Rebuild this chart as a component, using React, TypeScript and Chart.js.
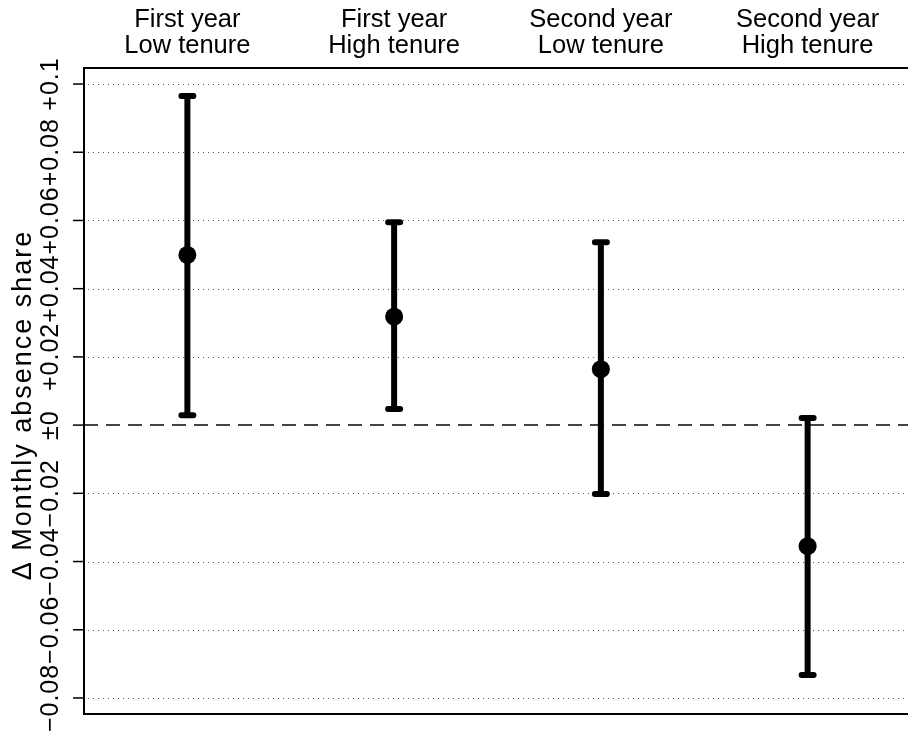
import React, { useEffect, useRef } from "react";
import { Chart, registerables } from "chart.js";

Chart.register(...registerables);

const categoriesTop = ["First year", "First year", "Second year", "Second year"];
const categoriesBottom = ["Low tenure", "High tenure", "Low tenure", "High tenure"];
const estimates = [0.0499, 0.0318, 0.0164, -0.0355];
const upper = [0.0965, 0.0595, 0.0536, 0.0021];
const lower = [0.0029, 0.0047, -0.0202, -0.0733];
const tickValues = [0.1, 0.08, 0.06, 0.04, 0.02, 0, -0.02, -0.04, -0.06, -0.08];
const tickLabels = ["+0.1", "+0.08", "+0.06", "+0.04", "+0.02", "±0", "−0.02", "−0.04", "−0.06", "−0.08"];
const yTitle = "Δ Monthly absence share";

const FONT = '"Liberation Sans", Arial, Helvetica, sans-serif';

export default function App() {
  const ref = useRef<HTMLCanvasElement | null>(null);

  useEffect(() => {
    if (!ref.current) return;
    const plugin = {
      id: "rstyle",
      beforeDatasetsDraw(chart: any) {
        const ctx = chart.ctx;
        const { left, right, top, bottom } = chart.chartArea;
        const xs = chart.scales.x;
        const ys = chart.scales.y;
        ctx.save();
        // dotted grid
        ctx.strokeStyle = "#555";
        ctx.lineWidth = 1;
        ctx.setLineDash([1, 4]);
        tickValues.forEach((v) => {
          if (v === 0) return;
          const y = Math.round(ys.getPixelForValue(v)) + 0.5;
          ctx.beginPath();
          ctx.moveTo(left + 4, y);
          ctx.lineTo(right, y);
          ctx.stroke();
        });
        // dashed zero line
        ctx.strokeStyle = "#444";
        ctx.lineWidth = 2;
        ctx.setLineDash([14, 8]);
        const y0 = ys.getPixelForValue(0);
        ctx.beginPath();
        ctx.moveTo(left, y0);
        ctx.lineTo(right, y0);
        ctx.stroke();
        ctx.setLineDash([]);
        // error bars
        ctx.strokeStyle = "#000";
        ctx.lineWidth = 6;
        estimates.forEach((_, i) => {
          const x = xs.getPixelForValue(i + 1);
          const yu = ys.getPixelForValue(upper[i]);
          const yl = ys.getPixelForValue(lower[i]);
          ctx.lineCap = "butt";
          ctx.beginPath();
          ctx.moveTo(x, yu);
          ctx.lineTo(x, yl);
          ctx.stroke();
          ctx.lineCap = "round";
          ctx.beginPath();
          ctx.moveTo(x - 6, yu);
          ctx.lineTo(x + 6, yu);
          ctx.moveTo(x - 6, yl);
          ctx.lineTo(x + 6, yl);
          ctx.stroke();
        });
        ctx.restore();
      },
      afterDraw(chart: any) {
        const ctx = chart.ctx;
        const { left, right, top, bottom } = chart.chartArea;
        const xs = chart.scales.x;
        const ys = chart.scales.y;
        ctx.save();
        // frame
        ctx.strokeStyle = "#000";
        ctx.lineWidth = 2;
        ctx.strokeRect(left, top, right - left, bottom - top);
        // y ticks
        ctx.lineWidth = 1.5;
        ctx.fillStyle = "#000";
        tickValues.forEach((v, i) => {
          const y = ys.getPixelForValue(v);
          ctx.beginPath();
          ctx.moveTo(left - 11, y);
          ctx.lineTo(left, y);
          ctx.stroke();
          ctx.save();
          ctx.font = `25px ${FONT}`;
          (ctx as any).letterSpacing = "1px";
          ctx.translate(58, y);
          ctx.rotate(-Math.PI / 2);
          ctx.textAlign = "center";
          ctx.textBaseline = "alphabetic";
          ctx.fillText(tickLabels[i], 0, 0);
          ctx.restore();
        });
        // y title
        ctx.save();
        ctx.font = `27px ${FONT}`;
        (ctx as any).letterSpacing = "2px";
        ctx.translate(31, (top + bottom) / 2 + 14);
        ctx.rotate(-Math.PI / 2);
        ctx.textAlign = "center";
        ctx.textBaseline = "alphabetic";
        ctx.fillText(yTitle, 0, 0);
        ctx.restore();
        // top category labels
        ctx.font = `25.5px ${FONT}`;
        ctx.textAlign = "center";
        ctx.textBaseline = "alphabetic";
        categoriesTop.forEach((t, i) => {
          const x = xs.getPixelForValue(i + 1);
          ctx.fillText(t, x, 27);
          ctx.fillText(categoriesBottom[i], x, 53);
        });
        ctx.restore();
      },
    };

    const chart = new Chart(ref.current, {
      type: "scatter",
      data: {
        datasets: [
          {
            data: estimates.map((v, i) => ({ x: i + 1, y: v })),
            pointRadius: 9,
            pointBackgroundColor: "#000",
            pointBorderColor: "#000",
            pointBorderWidth: 0,
          },
        ],
      },
      options: {
        animation: false,
        responsive: false,
        devicePixelRatio: 1,
        layout: { padding: { left: 84, top: 68, right: 8, bottom: 17 } },
        plugins: { legend: { display: false }, tooltip: { enabled: false } },
        scales: {
          x: { type: "linear", min: 0.5, max: 4.5, display: false },
          y: { type: "linear", min: -0.0847, max: 0.1047, display: false },
        },
      },
      plugins: [plugin],
    });
    return () => chart.destroy();
  }, []);

  return (
    <div
      style={{
        position: "fixed",
        left: 0,
        top: 0,
        width: 908,
        height: 731,
        overflow: "hidden",
        background: "#fff",
      }}
    >
      <canvas ref={ref} width={920} height={731} style={{ display: "block", width: 920, height: 731 }} />
    </div>
  );
}
